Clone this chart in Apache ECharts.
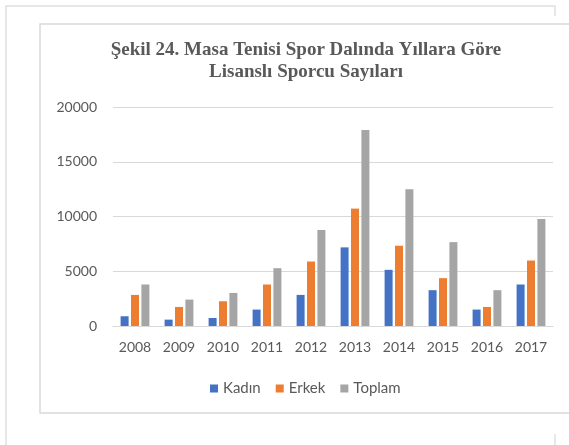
<!DOCTYPE html>
<html>
<head>
<meta charset="utf-8">
<script src="https://cdn.jsdelivr.net/npm/echarts@6/dist/echarts.min.js"></script>
<style>
  html, body { margin: 0; padding: 0; background: #fff; }
  #chart { width: 569px; height: 445px; }
</style>
</head>
<body>
<div id="chart"></div>
<script>
/* Lisanslı sporcu sayıları */
var years = ['2008', '2009', '2010', '2011', '2012', '2013', '2014', '2015', '2016', '2017'];
var kadin = [890, 580, 730, 1500, 2840, 7180, 5130, 3270, 1500, 3790];
var erkek = [2840, 1740, 2260, 3790, 5890, 10720, 7330, 4370, 1740, 5980];
var toplam = [3790, 2410, 3020, 5280, 8760, 17890, 12490, 7660, 3270, 9770];
var seriesNames = ['Kadın', 'Erkek', 'Toplam'];
var colors = ['#4472C4', '#ED7D31', '#A5A5A5'];

var myChart = echarts.init(document.getElementById('chart'));

function barSeries(name, data, color) {
  return {
    name: name,
    type: 'bar',
    data: data,
    barWidth: 8,
    barGap: '30%',
    itemStyle: { color: color }
  };
}

var option = {
  animation: false,
  color: colors,
  title: {
    text: 'Şekil 24. Masa Tenisi Spor Dalında Yıllara Göre\nLisanslı Sporcu Sayıları',
    left: 306,
    top: 39,
    padding: 0,
    textAlign: 'center',
    textStyle: {
      fontFamily: 'Liberation Serif',
      fontSize: 19,
      fontWeight: 'bold',
      color: '#595959',
      lineHeight: 22
    }
  },
  legend: {
    data: seriesNames,
    top: 376,
    left: 205,
    itemWidth: 8,
    itemHeight: 8,
    itemGap: 15,
    icon: 'rect',
    textStyle: {
      fontFamily: 'Lato',
      fontSize: 15,
      color: '#595959'
    }
  },
  grid: {
    left: 113,
    right: 16,
    top: 107,
    bottom: 119,
    containLabel: false
  },
  xAxis: {
    type: 'category',
    data: years,
    axisTick: { show: false },
    axisLine: { lineStyle: { color: '#D9D9D9', width: 1 } },
    axisLabel: {
      fontFamily: 'Lato',
      fontSize: 14,
      color: '#595959',
      margin: 14
    }
  },
  yAxis: {
    type: 'value',
    min: 0,
    max: 20000,
    interval: 5000,
    axisLine: { show: false },
    axisTick: { show: false },
    splitLine: { lineStyle: { color: '#D9D9D9', width: 1 } },
    axisLabel: {
      fontFamily: 'Lato',
      fontSize: 14,
      color: '#595959',
      margin: 16,
      formatter: function (v) { return String(v); }
    }
  },
  series: [
    barSeries(seriesNames[0], kadin, colors[0]),
    barSeries(seriesNames[1], erkek, colors[1]),
    barSeries(seriesNames[2], toplam, colors[2])
  ],
  graphic: [
    // dış çerçeve parçaları
    { type: 'polyline', shape: { points: [[6, 445], [6, 6], [555, 6], [555, 16]] },
      style: { stroke: '#E0E0E0', fill: null, lineWidth: 1.5 } },
    { type: 'line', shape: { x1: 555, y1: 434, x2: 555, y2: 445 },
      style: { stroke: '#E0E0E0', lineWidth: 1.5 } },
    // grafik alanı çerçevesi
    { type: 'polyline', shape: { points: [[569, 24], [40, 24], [40, 413], [569, 413]] },
      style: { stroke: '#D9D9D9', fill: null, lineWidth: 1.5 } }
  ]
};

myChart.setOption(option);
</script>
</body>
</html>
